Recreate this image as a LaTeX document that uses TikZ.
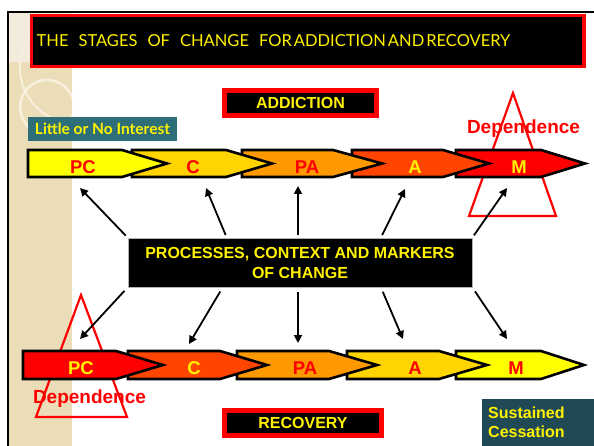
\documentclass[tikz,border=0pt]{standalone}
\usepackage{fontspec}
\setmainfont{Liberation Sans}
\newfontfamily\gillfont{Lato}
\usepackage{xcolor}
\usetikzlibrary{arrows.meta,positioning}

\definecolor{stageyellow}{HTML}{FFFF00}
\definecolor{stagegold}{HTML}{FFD400}
\definecolor{stageorange}{HTML}{FF9900}
\definecolor{stageflame}{HTML}{FF4500}
\definecolor{stagered}{HTML}{FF0000}
\definecolor{interestteal}{HTML}{2D6E79}
\definecolor{cessationteal}{HTML}{1F4A55}
\definecolor{stripbeige}{HTML}{EBDDB8}
\definecolor{striplight}{HTML}{F3ECDD}
\definecolor{stripring}{HTML}{F7F0DE}

\begin{document}
\begin{tikzpicture}[x=1pt, y=-1pt,
  stage/.style={draw=black, line width=2.6pt, line join=miter},
  stagelabel/.style={font=\bfseries\fontsize{18.5}{18.5}\selectfont},
  link/.style={draw, line width=1.8pt, -{Triangle[length=8pt,width=8pt]}},
  redbox/.style={draw=red, line width=5pt, fill=black, text=yellow, font=\bfseries\fontsize{16}{19}\selectfont},
  hump/.style={draw=red, line width=2.2pt, line join=miter},
  deptext/.style={text=red, font=\bfseries\fontsize{19}{19}\selectfont}]

\useasboundingbox (0,0) rectangle (594,446);
\fill[white] (0,0) rectangle (594,446);

\fill[stripbeige] (8.6,12.6) rectangle (72,446);
\fill[striplight] (8.6,12.6) rectangle (72,62);
\begin{scope}
\clip (8.6,12.6) rectangle (72,446);
\draw[stripring, line width=2.5pt] (47,107) circle[radius=27];
\draw[stripring, line width=2pt] (75,68) circle[radius=55];
\end{scope}

\node[draw=red, line width=3.3pt, fill=black, text=yellow, anchor=north west,
  minimum width=552.7pt, minimum height=51.4pt, inner xsep=5.35pt, inner ysep=0pt,
  text width=542pt, align=left, font=\gillfont\fontsize{16.5}{19}\selectfont]
  (titlebox) at (29.65,13.6)
  {THE\hspace{10pt}STAGES\hspace{10pt}OF\hspace{10pt}CHANGE\hspace{10pt}FOR\hspace{2pt}ADDICTION\hspace{2pt}AND\hspace{2pt}RECOVERY};
\draw[line width=1.6pt] (7.8,446) -- (7.8,11.8) -- (594,11.8);

\node[redbox, minimum width=152pt, minimum height=25pt, inner sep=0pt] (addiction) at (300.5,103) {ADDICTION};
\node[redbox, minimum width=157pt, minimum height=25pt, inner sep=0pt] (recovery) at (303,423) {RECOVERY};

\node[fill=interestteal, text=yellow, minimum width=149pt, minimum height=24pt, inner sep=0pt,
  font=\gillfont\bfseries\fontsize{15.5}{15.5}\selectfont] (interest) at (102.5,129) {Little or No Interest};

\node[fill=cessationteal, text=yellow, anchor=north west, text width=100pt, minimum height=47pt,
  inner xsep=6pt, inner ysep=0pt, align=left, font=\bfseries\fontsize{16}{19}\selectfont]
  (cessation) at (482,399) {Sustained\\Cessation};

\draw[hump] (513,93) -- (556,216) -- (469,216) -- cycle;
\draw[hump] (81,295) -- (127,417) -- (36,417) -- cycle;

\draw[stage, fill=stagered] (456,150) -- (541,150) -- (585,163.5) -- (541,177) -- (456,177) -- cycle;
\draw[stage, fill=stageflame] (352,150) -- (443,150) -- (489,163.5) -- (443,177) -- (352,177) -- cycle;
\draw[stage, fill=stageorange] (242,150) -- (333,150) -- (382,163.5) -- (333,177) -- (242,177) -- cycle;
\draw[stage, fill=stagegold] (132,150) -- (226,150) -- (272,163.5) -- (226,177) -- (132,177) -- cycle;
\draw[stage, fill=stageyellow] (28,150) -- (122,150) -- (167,163.5) -- (122,177) -- (28,177) -- cycle;

\draw[stage, fill=stageyellow] (456,351) -- (541,351) -- (584,365) -- (541,379) -- (456,379) -- cycle;
\draw[stage, fill=stagegold] (347,351) -- (439,351) -- (487,365) -- (439,379) -- (347,379) -- cycle;
\draw[stage, fill=stageorange] (237,351) -- (329,351) -- (377,365) -- (329,379) -- (237,379) -- cycle;
\draw[stage, fill=stageflame] (128,351) -- (220,351) -- (267,365) -- (220,379) -- (128,379) -- cycle;
\draw[stage, fill=stagered] (23,351) -- (116,351) -- (163,365) -- (116,379) -- (23,379) -- cycle;

\node[stagelabel, text=red] (pcA) at (83,167) {PC};
\node[stagelabel, text=red] (cA) at (193,167) {C};
\node[stagelabel, text=red] (paA) at (307,167) {PA};
\node[stagelabel, text=yellow] (aA) at (415,167) {A};
\node[stagelabel, text=yellow] (mA) at (519,167) {M};

\node[stagelabel, text=yellow] (pcR) at (81,368) {PC};
\node[stagelabel, text=yellow] (cR) at (194,368) {C};
\node[stagelabel, text=red] (paR) at (305,368) {PA};
\node[stagelabel, text=red] (aR) at (415,368) {A};
\node[stagelabel, text=red] (mR) at (516,368) {M};

\node[deptext] (depA) at (523.5,129) {Dependence};
\node[deptext] (depR) at (89.5,399) {Dependence};

\node[fill=black, draw=gray!60, line width=0.4pt, text=yellow, minimum width=344pt, minimum height=49pt,
  align=center, font=\bfseries\fontsize{16}{20}\selectfont]
  (proc) at (300,262.5) {PROCESSES, CONTEXT AND MARKERS\\OF CHANGE};

\coordinate (tipPCA) at (80,188);
\coordinate (tipCA) at (206,188);
\coordinate (tipPAA) at (298,186);
\coordinate (tipAA) at (405,189);
\coordinate (tipMA) at (507,188);
\coordinate (tipPCR) at (80,339);
\coordinate (tipCR) at (189,344);
\coordinate (tipPAR) at (298,343);
\coordinate (tipAR) at (403,339);
\coordinate (tipMR) at (507,339);

\path[link, shorten <=3pt] (proc.north west) -- (tipPCA);
\path[link, shorten <=3pt] ([xshift=99pt]proc.north west) -- (tipCA);
\path[link, shorten <=3pt] ([xshift=-2pt]proc.north) -- (tipPAA);
\path[link, shorten <=3pt] ([xshift=253pt]proc.north west) -- (tipAA);
\path[link, shorten <=3pt] (proc.north east) -- (tipMA);

\path[link, shorten <=5pt] (proc.south west) -- (tipPCR);
\path[link, shorten <=5pt] ([xshift=95pt]proc.south west) -- (tipCR);
\path[link, shorten <=5pt] ([xshift=-2pt]proc.south) -- (tipPAR);
\path[link, shorten <=5pt] ([xshift=253pt]proc.south west) -- (tipAR);
\path[link, shorten <=5pt] (proc.south east) -- (tipMR);

\end{tikzpicture}
\end{document}
